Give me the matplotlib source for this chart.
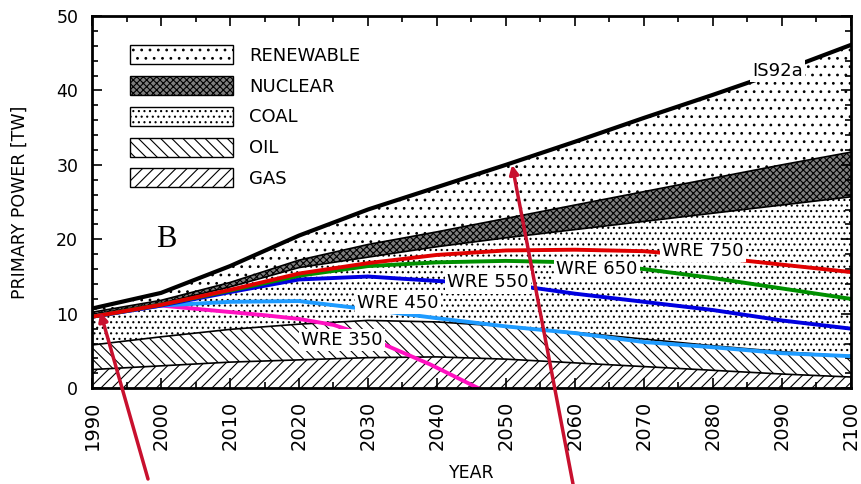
import matplotlib
matplotlib.use("Agg")
import matplotlib.pyplot as plt
from matplotlib.patches import Patch
from matplotlib.ticker import MultipleLocator

plt.rcParams['hatch.linewidth'] = 0.8

# IS92a stacked layers (top edge of each layer, TW)
years = [1990, 2000, 2010, 2020, 2030, 2040, 2050, 2060, 2070, 2080, 2090, 2100]
gas_top = [2.5, 3.0, 3.5, 3.8, 4.1, 4.2, 3.9, 3.4, 2.9, 2.4, 1.9, 1.5]
oil_top = [5.8, 6.9, 7.9, 8.6, 9.1, 8.9, 8.3, 7.5, 6.6, 5.7, 4.9, 4.3]
coal_top = [9.9, 11.4, 13.6, 16.2, 17.6, 19.0, 20.2, 21.3, 22.4, 23.5, 24.6, 25.7]
nuclear_top = [10.2, 11.8, 14.2, 17.2, 19.3, 21.0, 22.8, 24.6, 26.4, 28.2, 30.0, 31.7]
total = [10.7, 12.8, 16.4, 20.5, 24.0, 27.0, 30.0, 33.1, 36.3, 39.4, 42.6, 46.1]

# WRE stabilisation paths
wre750 = [9.6, 11.2, 13.2, 15.4, 16.8, 17.9, 18.5, 18.6, 18.4, 17.6, 16.6, 15.6]
wre650 = [9.6, 11.2, 13.1, 15.1, 16.4, 16.9, 17.1, 16.9, 16.0, 14.8, 13.4, 12.0]
wre550 = [9.6, 11.1, 12.9, 14.6, 15.0, 14.4, 14.0, 12.7, 11.6, 10.5, 9.1, 8.0]
wre450 = [9.6, 11.1, 11.6, 11.7, 10.6, 9.4, 8.3, 7.4, 6.2, 5.5, 4.7, 4.3]
years350 = [1990, 2000, 2008, 2015, 2020, 2025, 2028, 2033, 2039, 2046]
wre350 = [9.6, 11.1, 10.4, 9.8, 9.3, 8.5, 7.6, 5.6, 3.2, 0.0]

layer_names = ["RENEWABLE", "NUCLEAR", "COAL", "OIL", "GAS"]
nuc_face = "#7e7e7e"

fig = plt.figure(figsize=(8.61, 4.84), dpi=100)
ax = fig.add_axes([0.107, 0.198, 0.881, 0.769])

zero = [0] * len(years)
ax.fill_between(years, zero, gas_top, facecolor="white", edgecolor="black", hatch="///", linewidth=0)
ax.fill_between(years, gas_top, oil_top, facecolor="white", edgecolor="black", hatch="\\\\\\", linewidth=0)
ax.fill_between(years, oil_top, coal_top, facecolor="white", edgecolor="black", hatch="...", linewidth=0)
ax.fill_between(years, coal_top, nuclear_top, facecolor=nuc_face, edgecolor="black", hatch="xxxxx", linewidth=0)
ax.fill_between(years, nuclear_top, total, facecolor="white", edgecolor="black", hatch="..", linewidth=0)

for edge in (gas_top, oil_top, coal_top, nuclear_top):
    ax.plot(years, edge, color="black", lw=1.2)
ax.plot(years, total, color="black", lw=3)

ax.plot(years350, wre350, color="#ff10c0", lw=2.8)
ax.plot(years, wre450, color="#1e9bff", lw=2.8)
ax.plot(years, wre550, color="#0000e0", lw=2.8)
ax.plot(years, wre650, color="#009000", lw=2.8)
ax.plot(years, wre750, color="#e00000", lw=2.8)

box = dict(facecolor="white", edgecolor="none", pad=1.5)
ax.text(2078.6, 18.4, "WRE 750", fontsize=13, ha="center", va="center", bbox=box, zorder=5)
ax.text(2063.2, 16.0, "WRE 650", fontsize=13, ha="center", va="center", bbox=box, zorder=5)
ax.text(2047.4, 14.2, "WRE 550", fontsize=13, ha="center", va="center", bbox=box, zorder=5)
ax.text(2034.3, 11.4, "WRE 450", fontsize=13, ha="center", va="center", bbox=box, zorder=5)
ax.text(2026.2, 6.45, "WRE 350", fontsize=13, ha="center", va="center", bbox=box, zorder=5)
ax.text(2089.4, 42.6, "IS92a", fontsize=13, ha="center", va="center", bbox=box, zorder=5)
ax.text(2000.7, 20.0, "B", fontsize=22, family="Liberation Serif", ha="center", va="center")

handles = [
    Patch(facecolor="white", edgecolor="black", hatch=".."),
    Patch(facecolor=nuc_face, edgecolor="black", hatch="xxxxx"),
    Patch(facecolor="white", edgecolor="black", hatch="..."),
    Patch(facecolor="white", edgecolor="black", hatch="\\\\\\"),
    Patch(facecolor="white", edgecolor="black", hatch="///"),
]
ax.legend(handles, layer_names, loc="upper left", bbox_to_anchor=(0.038, 0.946),
          frameon=False, borderpad=0, fontsize=13, handlelength=5.7, handleheight=1.25,
          labelspacing=0.62, handletextpad=0.9)

# red pointer arrows
arrow = dict(arrowstyle="-|>", color="#c8102e", lw=2.5, mutation_scale=13, shrinkA=0, shrinkB=0)
ax.annotate("", xy=(1991.2, 10.2), xytext=(148, 5), textcoords="figure pixels",
            arrowprops=arrow, annotation_clip=False)
ax.annotate("", xy=(2050.9, 30.0), xytext=(573, 0), textcoords="figure pixels",
            arrowprops=arrow, annotation_clip=False)

ax.set_xlim(1990, 2100)
ax.set_ylim(0, 50)
ax.xaxis.set_major_locator(MultipleLocator(10))
ax.xaxis.set_minor_locator(MultipleLocator(5))
ax.yaxis.set_major_locator(MultipleLocator(10))
ax.yaxis.set_minor_locator(MultipleLocator(2))
ax.tick_params(which="both", direction="in", top=True, right=True, width=1.2)
ax.tick_params(which="major", length=7)
ax.tick_params(which="minor", length=4)
ax.tick_params(axis="x", labelsize=14, pad=9, labelrotation=90)
ax.tick_params(axis="y", labelsize=12.5, pad=10)
for s in ax.spines.values():
    s.set_linewidth(2)

ax.set_xlabel("YEAR", fontsize=12.5, labelpad=10)
ax.set_ylabel("PRIMARY POWER [TW]", fontsize=12.5, labelpad=20)

fig.savefig("out.png", dpi=100)
